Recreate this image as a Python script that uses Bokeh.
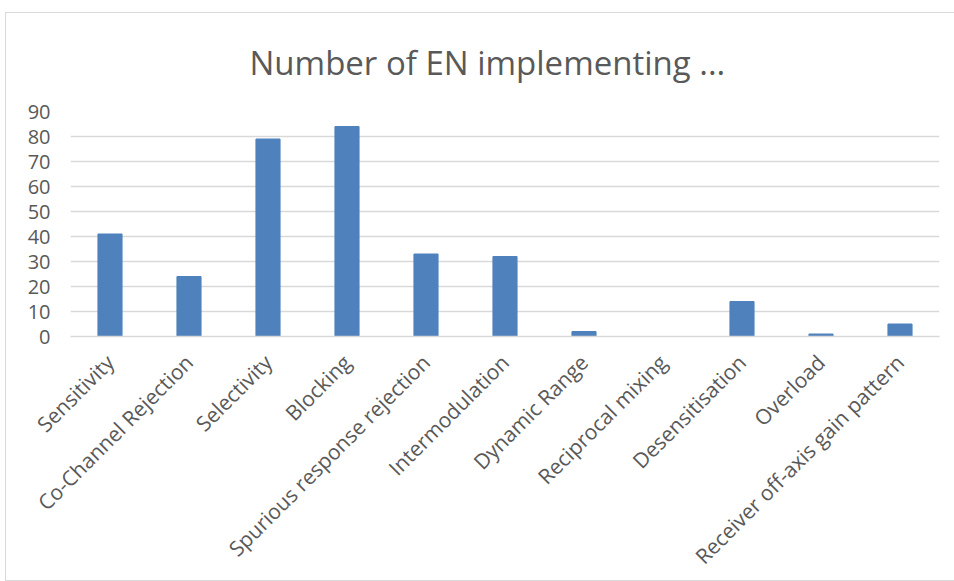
import math
from bokeh.plotting import figure
from bokeh.models import ColumnDataSource
from bokeh.embed import file_html
from bokeh.resources import INLINE

title_text = "Number of EN implementing ..."
categories = ["Sensitivity", "Co-Channel Rejection", "Selectivity", "Blocking",
              "Spurious response rejection", "Intermodulation", "Dynamic Range",
              "Reciprocal mixing", "Desensitisation", "Overload",
              "Receiver off-axis gain pattern"]
counts = [41, 24, 79, 84, 33, 32, 2, 0, 14, 1, 5]
y_ticks = [0, 10, 20, 30, 40, 50, 60, 70, 80, 90]

src = ColumnDataSource(dict(cat=categories, val=counts))

p = figure(x_range=categories, y_range=(0, 90), width=950, height=569,
           output_backend="svg", toolbar_location=None,
           title=title_text,
           min_border_left=64, min_border_right=17, min_border_top=98,
           min_border_bottom=5)
p.styles = {"margin-left": "5px", "margin-top": "12px",
            "border": "1.5px solid #d9d9d9"}

p.vbar(x="cat", top="val", width=0.305, source=src, color="#4f81bd")

p.title.text_font = "Open Sans"
p.title.text_font_size = "33px"
p.title.text_font_style = "normal"
p.title.text_color = "#595959"
p.title.align = "left"
p.title.vertical_align = "top"
p.title.standoff = 50
p.title.offset = 179

p.outline_line_color = None
p.xgrid.grid_line_color = None
p.ygrid.grid_line_color = "#d9d9d9"
p.ygrid.grid_line_width = 1.5
p.yaxis.ticker = y_ticks
p.yaxis.axis_line_color = None
p.yaxis.major_tick_line_color = None
p.yaxis.minor_tick_line_color = None
p.yaxis.major_label_text_font = "Open Sans"
p.yaxis.major_label_text_font_size = "20px"
p.yaxis.major_label_text_color = "#595959"
p.yaxis.major_label_standoff = 14

p.xaxis.axis_line_color = "#d9d9d9"
p.xaxis.axis_line_width = 1.5
p.xaxis.major_tick_line_color = None
p.xaxis.minor_tick_line_color = None
p.xaxis.major_label_orientation = math.pi / 4
p.xaxis.major_label_text_font = "Open Sans"
p.xaxis.major_label_text_font_size = "21px"
p.xaxis.major_label_text_color = "#595959"
p.xaxis.major_label_standoff = 16

open("out.html", "w").write(file_html(p, INLINE))
